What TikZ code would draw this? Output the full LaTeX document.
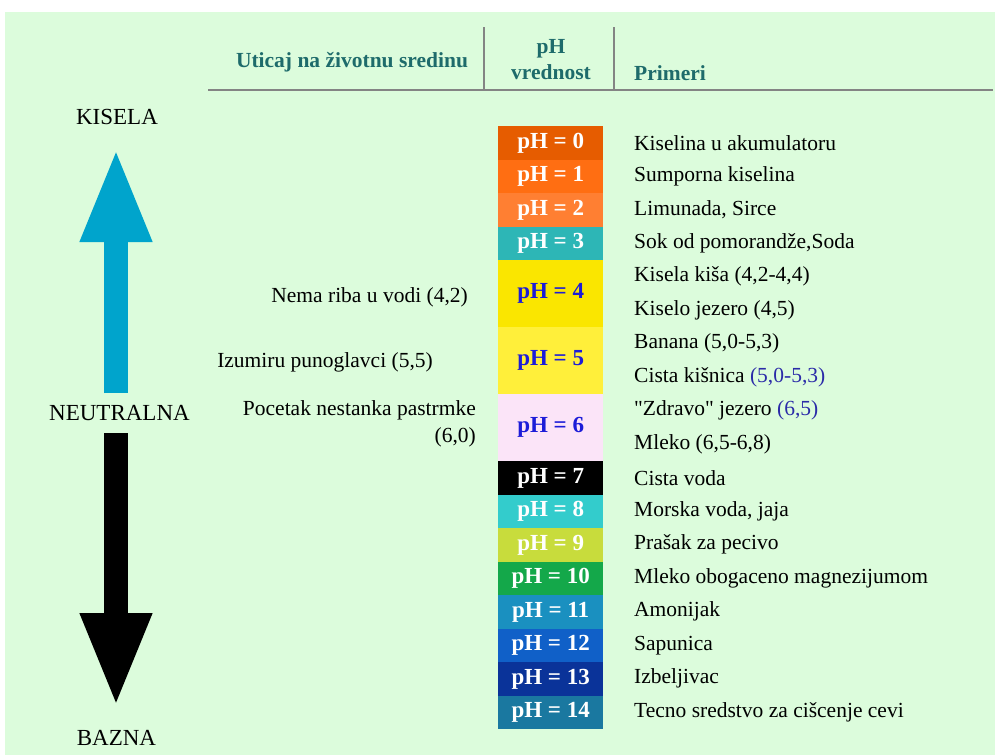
\documentclass[tikz,border=0pt]{standalone}
\usepackage{fontspec}
\setmainfont{Liberation Serif}[Ligatures=TeXOff]
\usetikzlibrary{arrows.meta,positioning,calc}
\definecolor{bggreen}{HTML}{DCFCDC}
\definecolor{rulegray}{HTML}{848484}
\definecolor{headteal}{HTML}{1E6B6B}
\definecolor{numblue}{HTML}{2B2BA8}
\definecolor{phblue}{HTML}{1C1CD8}
\definecolor{acidcyan}{HTML}{00A4CC}
\definecolor{ph0}{HTML}{E65C00}
\definecolor{ph1}{HTML}{FF6E12}
\definecolor{ph2}{HTML}{FF7F32}
\definecolor{ph3}{HTML}{2DB6B6}
\definecolor{ph4}{HTML}{FAE600}
\definecolor{ph5}{HTML}{FFEF3A}
\definecolor{ph6}{HTML}{FBE4F8}
\definecolor{ph7}{HTML}{000000}
\definecolor{ph8}{HTML}{33CCCC}
\definecolor{ph9}{HTML}{C8DC3C}
\definecolor{ph10}{HTML}{14A84A}
\definecolor{ph11}{HTML}{1A90C0}
\definecolor{ph12}{HTML}{1060C8}
\definecolor{ph13}{HTML}{0A3399}
\definecolor{ph14}{HTML}{1A78A0}
\tikzset{
phbar/.style = {rectangle, anchor=north west, inner sep=0pt, minimum width=105pt, font=\fontsize{23}{26}\selectfont\bfseries},
example/.style = {anchor=west, inner sep=0pt, font=\fontsize{21.5}{25}\selectfont},
effect/.style = {anchor=east, inner sep=0pt, align=right, font=\fontsize{21.5}{27}\selectfont},
header/.style = {inner sep=0pt, text=headteal, font=\fontsize{21.5}{26}\selectfont\bfseries},
level/.style = {inner sep=0pt, font=\fontsize{23}{26}\selectfont},
bigarrow/.style = {line width=24pt, -{Triangle[length=95pt,width=65pt]}},
rule/.style = {draw=rulegray, line width=2pt},
}
\begin{document}
\begin{tikzpicture}[x=1pt,y=-1pt]
\fill[white] (0,0) rectangle (995,755);
\fill[bggreen] (5,12) rectangle (995,755);
\useasboundingbox (0,0) rectangle (995,755);

\node[header] (impact) at (352,62) {Uticaj na životnu sredinu};
\node[header, align=center] (phhead) at (551,60) {pH\\vrednost};
\node[header, anchor=west] (examples) at (634,73) {Primeri};
\draw[rule] (208,90) -- (993,90);
\draw[rule] (484,27) -- (484,90);
\draw[rule] (614,27) -- (614,90);

\foreach \v/\top/\n/\t in {0/0/1/white, 1/1/1/white, 2/2/1/white, 3/3/1/white,
  4/4/2/phblue, 5/6/2/phblue, 6/8/2/phblue, 7/10/1/white, 8/11/1/white,
  9/12/1/white, 10/13/1/white, 11/14/1/white, 12/15/1/white, 13/16/1/white, 14/17/1/white}
  \node[phbar, fill=ph\v, text=\t, minimum height=\n*33.5pt] (bar\v) at (498,126+\top*33.5) {pH = \v};

\foreach \txt [count=\i from 0] in {Kiselina u akumulatoru, Sumporna kiselina, {Limunada, Sirce},
  {Sok od pomorandže,Soda}, {Kisela kiša (4,2-4,4)}, {Kiselo jezero (4,5)}, {Banana (5,0-5,3)},
  {Cista kišnica \textcolor{numblue}{(5,0-5,3)}}, {"Zdravo" jezero \textcolor{numblue}{(6,5)}},
  {Mleko (6,5-6,8)}, Cista voda, {Morska voda, jaja}, Prašak za pecivo, Mleko obogaceno magnezijumom,
  Amonijak, Sapunica, Izbeljivac, Tecno sredstvo za cišcenje cevi}
  \node[example] (ex\i) at (634,{126+(\i+0.5)*33.5}) {\txt};

\node[effect] (fish) at (468,297) {Nema riba u vodi (4,2)};
\node[effect] (tadpole) at (433,362) {Izumiru punoglavci (5,5)};
\node[effect] (trout) at (476,423.5) {Pocetak nestanka pastrmke\\(6,0)};

\node[level] (acid) at (117,117) {KISELA};
\node[level] (neutral) at (119.5,413) {NEUTRALNA};
\node[level] (base) at (116.5,738) {BAZNA};
\coordinate (acidfoot) at (116,393);
\coordinate (acidtip) at (116,147);
\coordinate (basefoot) at (116,433);
\coordinate (basetip) at (116,708);
\draw[bigarrow, acidcyan] (acidfoot) -- (acidtip);
\draw[bigarrow, black] (basefoot) -- (basetip);
\end{tikzpicture}
\end{document}
